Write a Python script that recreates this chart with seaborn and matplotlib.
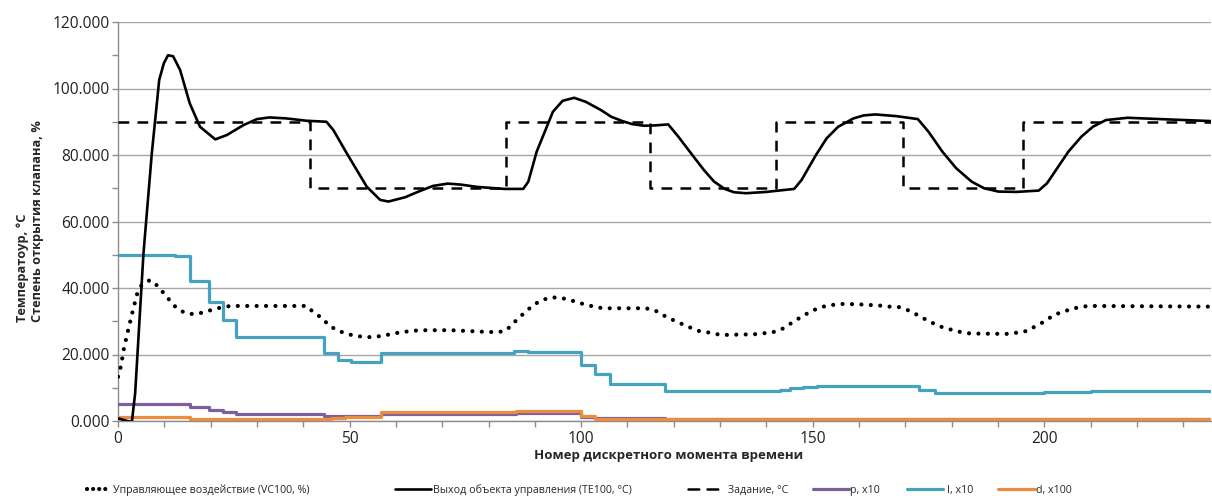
import matplotlib
matplotlib.use("Agg")
import matplotlib.pyplot as plt
from matplotlib.ticker import MultipleLocator, FuncFormatter
import seaborn as sns

# Управляющее воздействие VC100, %
vc_t = [0, 0.6, 1.3, 2.2, 3.2, 4.2, 5.1, 6.9, 8.5, 11.1, 12.5, 14.3, 16.3, 18.3, 20.2,
        22.4, 24.3, 40.7, 42.3, 44, 45.6, 47.3, 49.2, 51.2, 54, 57.3, 59.3, 61.3, 63.4,
        65.4, 72, 78, 82, 83.8, 85.2, 86.7, 88.2, 89.8, 91.6, 93.6, 95.7, 97.6, 99.6,
        101.6, 103.6, 105.7, 113.9, 115.8, 117.6, 119.5, 121.4, 123.4, 125.3, 127.2,
        129.3, 131.3, 137.5, 139.5, 141.4, 143.3, 145, 146.7, 148.5, 150.3, 152.3, 154.3,
        156.5, 160, 164.6, 166.6, 168.5, 170.8, 172.6, 174.3, 176, 178, 180.1, 182.1,
        184.1, 192.3, 194.2, 196.4, 198.2, 200, 202.1, 204.1, 206, 208, 210, 236]
vc_v = [13.3, 16.3, 22.0, 27.4, 33.2, 38.6, 40.9, 42.4, 40.7, 36.4, 34.2, 32.6, 32.1, 32.6, 33.4,
        34.2, 34.6, 34.6, 32.6, 31.0, 28.7, 27.3, 26.3, 25.6, 25.2, 25.6, 26.3, 26.7, 27.1,
        27.3, 27.3, 26.9, 26.7, 27.2, 29.2, 31.2, 33.1, 35.0, 36.4, 37.2, 37.0, 36.4, 35.5,
        34.8, 34.1, 33.9, 33.9, 33.4, 31.9, 30.6, 29.4, 28.2, 27.1, 26.7,
        26.1, 25.9, 26.1, 26.4, 26.7, 27.6, 29.1, 30.6, 32.1, 33.4, 34.4, 34.9,
        35.2, 35.1, 34.7, 34.4, 34.3, 33.2, 31.9, 30.6, 29.4, 28.2, 27.4, 26.7,
        26.3, 26.2, 26.6, 27.1, 28.6, 29.9, 31.9, 32.9, 33.7, 34.4, 34.6, 34.4]

# Выход объекта управления TE100, °C
te_t = [0, 1, 2, 3, 3.7, 5.5, 7.3, 8.9, 9.9, 10.8, 11.9, 13.4, 15.5, 17.7, 21, 23.5, 27.1,
        30, 32.7, 36.4, 40.7, 45, 46.5, 49.4, 53.7, 56.6, 58.4, 62, 64.9, 68, 71.2, 74,
        77.6, 83.4, 87.5, 88.6, 90.4, 93.9, 96, 98.5, 101, 104.3, 106.5, 108.9, 111, 113.6,
        116, 118.8, 121, 124, 126.5, 128.7, 131, 133, 135.6, 140, 146, 147.6, 150.7, 153,
        155.5, 158.8, 161, 163.5, 168, 172.7, 175, 178, 181, 184.3, 187, 190.1, 194, 198.8,
        200.6, 205.2, 208, 210.5, 213.3, 218, 225, 236]
te_v = [0.8, 0.4, 0.0, -0.2, 8.3, 50.4, 80.5, 102.6, 107.6, 110.0, 109.7, 105.6, 95.5, 88.5,
        84.7, 86.0, 89.0, 90.8, 91.3, 91.0, 90.3, 90.0, 87.5, 80.5, 70.5, 66.5, 66.0, 67.3,
        69.0, 70.7, 71.4, 71.1, 70.4, 69.8, 69.8, 72.0, 81.0, 93.0, 96.3, 97.2, 96.0, 93.5,
        91.5, 90.2, 89.3, 88.8, 88.9, 89.2, 85.5, 80.0, 75.5, 72.0, 69.8, 68.8, 68.5, 68.9,
        69.8, 72.5, 80.0, 85.0, 88.5, 91.0, 91.9, 92.2, 91.7, 90.8, 87.0, 81.0, 76.0, 72.0,
        70.0, 69.0, 68.9, 69.3, 71.5, 81.0, 85.5, 88.5, 90.5, 91.2, 90.8, 90.2]

# Задание, °C (ступенчатое)
sp_t = [0, 41.5, 83.8, 114.9, 142, 169.4, 195.3, 236]
sp_v = [90, 70, 90, 70, 90, 70, 90, 90]

# Составляющие регулятора
p_t = [0, 15.5, 19.6, 22.6, 25.5, 44.5, 56.8, 86, 100, 103, 106.2, 118, 143, 173, 180, 236]
p_v = [5.0, 4.1, 3.3, 2.6, 2.0, 1.6, 2.1, 2.3, 1.3, 0.9, 0.8, 0.6, 0.7, 0.6, 0.5, 0.5]

i_t = [0, 12.3, 15.5, 19.6, 22.6, 25.5, 44.5, 47.4, 50.3, 56.8, 65, 85.5, 88.5, 100, 103,
       106.2, 118, 143, 145, 148, 151, 155, 173, 176.5, 180, 200, 210, 236]
i_v = [50.0, 49.6, 42.2, 35.9, 30.4, 25.4, 20.5, 18.3, 17.6, 20.4, 20.6, 21.1, 20.8, 16.9,
       14.1, 11.0, 9.1, 9.4, 9.8, 10.1, 10.4, 10.6, 9.2, 8.5, 8.3, 8.6, 8.9, 8.9]

d_t = [0, 15.5, 46, 49, 56.8, 86, 99, 100, 103, 236]
d_v = [1.1, 0.5, 0.8, 1.3, 2.8, 3.0, 2.9, 1.5, 0.5, 0.5]

labels = ["Управляющее воздействие (VC100, %)", "Выход объекта управления (TE100, °C)",
          "Задание, °C", "p, x10", "I, x10", "d, x100"]

sns.set_theme(style="white")
plt.rcParams["font.family"] = ["Open Sans", "DejaVu Sans"]

W, H = 1212, 496
fig = plt.figure(figsize=(W / 100, H / 100), dpi=100)
ax = fig.add_axes([118 / W, 1 - 421 / H, (1211 - 118) / W, (421 - 22) / H])

purple, teal, orange = "#7d5fa0", "#46a3bf", "#ec8d3e"

sns.lineplot(x=p_t, y=p_v, ax=ax, color=purple, lw=2.3, sort=False,
             drawstyle="steps-post", zorder=3, label=labels[3])
sns.lineplot(x=i_t, y=i_v, ax=ax, color=teal, lw=2.3, sort=False,
             drawstyle="steps-post", zorder=3, label=labels[4])
sns.lineplot(x=d_t, y=d_v, ax=ax, color=orange, lw=2.3, sort=False,
             drawstyle="steps-post", zorder=3, label=labels[5])
sns.lineplot(x=sp_t, y=sp_v, ax=ax, color="black", lw=1.8, sort=False,
             drawstyle="steps-post", linestyle=(0, (4.3, 3.3)), zorder=4, label=labels[2])
sns.lineplot(x=te_t, y=te_v, ax=ax, color="black", lw=1.9, sort=False,
             zorder=5, label=labels[1])
line_vc = sns.lineplot(x=vc_t, y=vc_v, ax=ax, color="black", lw=3.0, sort=False,
                       linestyle=(0, (0.01, 2.25)), zorder=5, label=labels[0]).lines[-1]
line_vc.set_dash_capstyle("round")

handles, labs = ax.get_legend_handles_labels()
hmap = dict(zip(labs, handles))
if ax.get_legend() is not None:
    ax.get_legend().remove()

ax.set_xlim(0, 236)
ax.set_ylim(0, 120)
ax.yaxis.set_major_locator(MultipleLocator(20))
ax.yaxis.set_minor_locator(MultipleLocator(10))
ax.xaxis.set_major_locator(MultipleLocator(50))
ax.xaxis.set_minor_locator(MultipleLocator(10))
ax.yaxis.set_major_formatter(FuncFormatter(lambda v, _: f"{v:.3f}"))
ax.grid(axis="y", which="major", color="#a6a6a6", lw=1.0)
ax.grid(axis="x", visible=False)
ax.set_axisbelow(True)

for side in ("top", "right"):
    ax.spines[side].set_visible(False)
for side in ("left", "bottom"):
    ax.spines[side].set_color("#8c8c8c")
    ax.spines[side].set_linewidth(1.0)

ax.tick_params(axis="both", which="both", direction="out", color="#8c8c8c",
               length=4, width=1.0, bottom=True, left=True)
ax.tick_params(axis="y", labelsize=11.2, pad=2, labelcolor="#222222")
ax.tick_params(axis="x", labelsize=11.2, pad=3, labelcolor="#222222")

ax.set_xlabel("Номер дискретного момента времени", fontsize=9.5, fontweight="bold")
ax.xaxis.set_label_coords((669 - 118) / (1211 - 118), -(449 - 421) / (421 - 22))
ax.set_ylabel("Температоур, °С\nСтепень открытия клапана, %", fontsize=9.2,
              fontweight="bold", multialignment="left")
ax.yaxis.set_label_coords(-(118 - 44) / (1211 - 118), 0.5)

# Legend row: one entry per block, handle start / handle length / text start in pixels
fs = 7.7
em = fs * 100 / 72
legend_slots = [(87, 24, 113), (395, 36, 433), (688, 30, 728),
                (813, 36, 850), (907, 36, 947), (998, 37, 1036)]
for lab, (x0, hl, tx) in zip(labels, legend_slots):
    lg = fig.legend([hmap[lab]], [lab], loc="center left",
                    bbox_to_anchor=(x0 / W, 1 - 490 / H), frameon=False, fontsize=fs,
                    handlelength=hl / em, handletextpad=(tx - x0 - hl) / em,
                    borderpad=0, borderaxespad=0)
    for h in lg.get_lines():
        h.set_dash_capstyle("round")
        if lab == labels[0]:
            h.set_linestyle((0, (0.01, 1.45)))

fig.savefig("out.png", dpi=100)
